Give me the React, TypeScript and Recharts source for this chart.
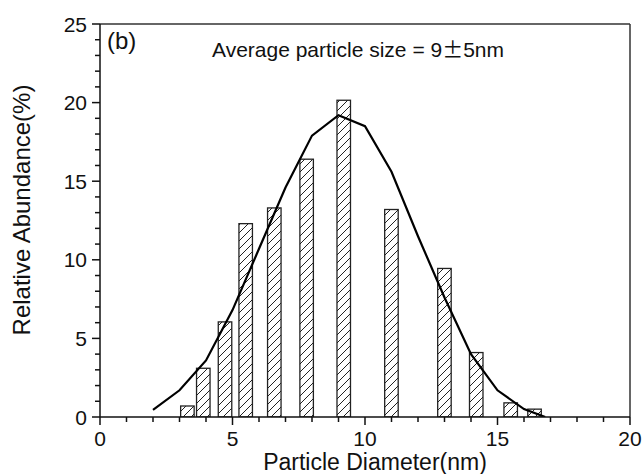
import { ComposedChart, Bar, Line, XAxis, YAxis, ReferenceLine } from "recharts";

// particle size histogram (bin centre, nm) and relative abundance (%)
const binCentres = [3.3, 3.9, 4.72, 5.5, 6.58, 7.8, 9.2, 11.0, 13.0, 14.2, 15.5, 16.4];
const abundance = [0.7, 3.1, 6.05, 12.3, 13.3, 16.4, 20.15, 13.2, 9.45, 4.1, 0.9, 0.5];

// fitted distribution curve
const fitX = [2, 3, 4, 5, 6, 7, 8, 9, 10, 11, 12, 13, 14, 15, 16, 16.8];
const fitY = [0.45, 1.7, 3.6, 6.8, 10.7, 14.6, 17.9, 19.2, 18.5, 15.6, 11.5, 7.6, 4.0, 1.7, 0.5, 0];

const xTicks = [0, 1, 2, 3, 4, 5, 6, 7, 8, 9, 10, 11, 12, 13, 14, 15, 16, 17, 18, 19, 20];
const yTicks = [0, 1, 2, 3, 4, 5, 6, 7, 8, 9, 10, 11, 12, 13, 14, 15, 16, 17, 18, 19, 20, 21, 22, 23, 24, 25];

const bars = binCentres.map((x, i) => ({ x, y: abundance[i] }));
const curve = fitX.map((x, i) => ({ x, y: fitY[i] }));

const FONT = "'Liberation Sans', Arial, sans-serif";
const BAR_W = 13.5;

const XTick = (props: any) => {
  const { x, y, payload } = props;
  const major = payload.value % 5 === 0;
  return (
    <g>
      <line x1={x} y1={y} x2={x} y2={y + (major ? 8 : 5)} stroke="#111" strokeWidth={1.5} />
      {major && (
        <text x={x} y={y + 28.5} textAnchor="middle" fontSize={21} fontFamily={FONT} fill="#111">
          {payload.value}
        </text>
      )}
    </g>
  );
};

const YTick = (props: any) => {
  const { x, y, payload } = props;
  const major = payload.value % 5 === 0;
  return (
    <g>
      <line x1={x} y1={y} x2={x - (major ? 8 : 5)} y2={y} stroke="#111" strokeWidth={1.5} />
      {major && (
        <text x={x - 13} y={y + 7.5} textAnchor="end" fontSize={21} fontFamily={FONT} fill="#111">
          {payload.value}
        </text>
      )}
    </g>
  );
};

// hatched bar of fixed pixel width, centred on the bin position from the x scale
const HatchBar = (props: any) => {
  const { x, y, width, height } = props;
  if (height == null || height <= 0) return null;
  const cx = x + width / 2;
  return (
    <rect
      x={cx - BAR_W / 2}
      y={y}
      width={BAR_W}
      height={height}
      fill="url(#hatch)"
      stroke="#222"
      strokeWidth={1.3}
    />
  );
};

export default function App() {
  return (
    <div style={{ position: "absolute", left: 0, top: 0, width: 643, height: 474, background: "#fff" }}>
      <ComposedChart width={643} height={474} data={bars} margin={{ top: 24, right: 13, bottom: 0, left: 0 }}>
        <defs>
          <pattern id="hatch" patternUnits="userSpaceOnUse" width={8} height={8}>
            <rect width={8} height={8} fill="#fff" />
            <path d="M-2,2 L2,-2 M0,8 L8,0 M6,10 L10,6" stroke="#222" strokeWidth={1} />
          </pattern>
        </defs>
        <XAxis
          dataKey="x"
          type="number"
          domain={[0, 20]}
          ticks={xTicks}
          interval={0}
          allowDataOverflow
          height={57}
          tickSize={0}
          tickMargin={0}
          tickLine={false}
          tick={<XTick />}
          axisLine={{ stroke: "#111", strokeWidth: 1.5 }}
        />
        <YAxis
          type="number"
          domain={[0, 25]}
          ticks={yTicks}
          interval={0}
          allowDataOverflow
          width={100}
          tickSize={0}
          tickMargin={0}
          tickLine={false}
          tick={<YTick />}
          axisLine={{ stroke: "#111", strokeWidth: 1.5 }}
        />
        <ReferenceLine y={25} stroke="#333" strokeWidth={1.5} />
        <ReferenceLine x={20} stroke="#333" strokeWidth={1.5} />
        <Bar dataKey="y" shape={<HatchBar />} isAnimationActive={false} />
        <Line
          data={curve}
          dataKey="y"
          type="linear"
          stroke="#000"
          strokeWidth={2.2}
          dot={false}
          activeDot={false}
          isAnimationActive={false}
        />
      </ComposedChart>
      <div style={{ position: "absolute", left: 107, top: 27, fontSize: 24, fontFamily: FONT, color: "#111", lineHeight: "28px" }}>
        (b)
      </div>
      <div style={{ position: "absolute", left: 212, top: 36, fontSize: 21, fontFamily: FONT, color: "#111", lineHeight: "24px", whiteSpace: "nowrap" }}>
        Average particle size = 9<span style={{ fontFamily: "'Noto Sans CJK SC', sans-serif" }}>±</span>5nm
      </div>
      <div style={{ position: "absolute", left: 375, top: 452, transform: "translateX(-50%)", fontSize: 23, fontFamily: FONT, color: "#111", lineHeight: "20px", whiteSpace: "nowrap" }}>
        Particle Diameter(nm)
      </div>
      <div
        style={{
          position: "absolute",
          left: 22,
          top: 210,
          transform: "translate(-50%, -50%) rotate(-90deg)",
          fontSize: 24,
          fontFamily: FONT,
          color: "#111",
          lineHeight: "28px",
          whiteSpace: "nowrap",
        }}
      >
        Relative Abundance(%)
      </div>
    </div>
  );
}
